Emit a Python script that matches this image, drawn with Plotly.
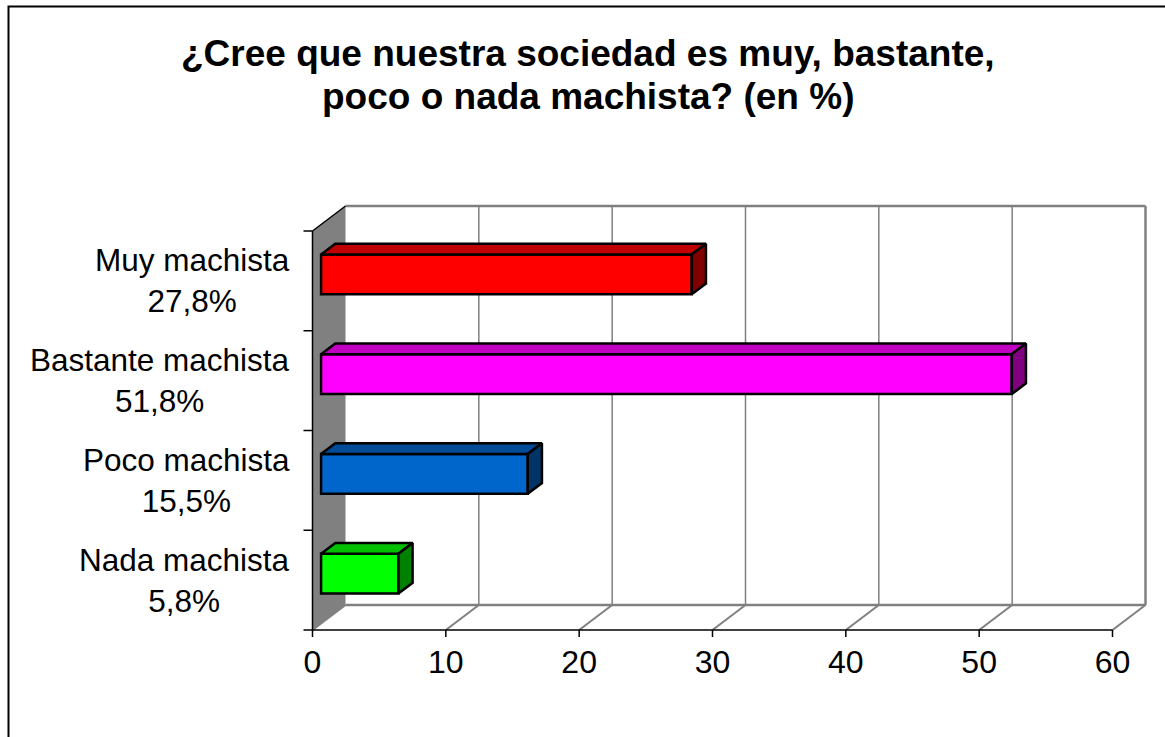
import plotly.graph_objects as go

# ---------------- data ----------------
categories = ["Muy machista", "Bastante machista", "Poco machista", "Nada machista"]
values = [27.8, 51.8, 15.5, 5.8]
value_labels = ["27,8%", "51,8%", "15,5%", "5,8%"]
front_colors = ["#FF0000", "#FF00FF", "#0066CC", "#00FF00"]
top_colors = ["#C00000", "#C000C0", "#004C99", "#00C000"]
side_colors = ["#800000", "#800080", "#003366", "#008000"]
x_ticks = [0, 10, 20, 30, 40, 50, 60]
title_lines = ["¿Cree que nuestra sociedad es muy, bastante,", "poco o nada machista? (en %)"]

# ---------------- geometry ----------------
W, H = 1165, 737
X0PX = 312.5            # pixel of value 0 on the front plane
PXU = 800 / 60          # pixels per value unit
PLOT_L, PLOT_R, PLOT_T, PLOT_B = 298, 1152, 200, 640
FLOOR_PX = 630
XMAX = x_ticks[-1]
DX = 33 / PXU           # depth offset (x, in value units)
DY = 25                 # depth offset (y, in px units)
HT = 399                # front wall height
F1, F2 = 0.26, 0.69     # bar front/back depth fractions
n = len(categories)
band = HT / n
bh = 0.4 * band

FONT = "Liberation Sans, Arial, sans-serif"
GRAY = "#808080"
EDGE_W = 2.5

def px_x(p):
    return (p - X0PX) / PXU

def paper_x(p):
    return (p - PLOT_L) / (PLOT_R - PLOT_L)

def paper_y(p):
    return (PLOT_B - p) / (PLOT_B - PLOT_T)

shapes = []

def line_shape(x0, y0, x1, y1, color, width):
    shapes.append(dict(type="line", xref="x", yref="y", x0=x0, y0=y0, x1=x1, y1=y1,
                       layer="below", line=dict(color=color, width=width)))

# left wall
shapes.append(dict(type="path", xref="x", yref="y", layer="below",
                   path=f"M 0 0 L 0 {HT} L {DX} {HT + DY} L {DX} {DY} Z",
                   fillcolor=GRAY, line=dict(width=0)))
# back wall gridlines
for t in x_ticks[1:-1]:
    line_shape(t + DX, DY, t + DX, HT + DY, GRAY, 1.5)
# floor diagonals
for t in x_ticks:
    line_shape(t, 0, t + DX, DY, GRAY, 2)
# back wall frame
line_shape(DX, HT + DY, XMAX + DX, HT + DY, GRAY, 2.5)
line_shape(XMAX + DX, HT + DY, XMAX + DX, DY, GRAY, 2.5)
line_shape(DX, DY, XMAX + DX, DY, GRAY, 2.5)
# front floor edge, left edge
line_shape(0, 0, XMAX, 0, "black", 1.5)
line_shape(0, 0, 0, HT, "black", 1.5)
line_shape(0, HT, DX, HT + DY, "black", 1.5)
# x ticks
for t in x_ticks:
    line_shape(t, 0, t, -7, "black", 1.5)
# y ticks
for k in range(n + 1):
    line_shape(-9 / PXU, k * band, 0, k * band, "black", 1.5)

# chart border
shapes.append(dict(type="rect", xref="paper", yref="paper",
                   x0=paper_x(8.5), x1=paper_x(1175), y0=paper_y(6.5), y1=paper_y(750),
                   line=dict(color="black", width=2), fillcolor="rgba(0,0,0,0)"))

fig = go.Figure()

# bars (front faces)
ycs = [HT - (i + 0.5) * band for i in range(n)]
fig.add_trace(go.Bar(orientation="h", x=values, y=[yc + F1 * DY for yc in ycs],
                     base=F1 * DX, width=bh,
                     marker=dict(color=front_colors, line=dict(color="black", width=EDGE_W)),
                     hoverinfo="skip", showlegend=False))
# top and side faces
ddx, ddy = (F2 - F1) * DX, (F2 - F1) * DY
for i, v in enumerate(values):
    xa = F1 * DX
    xb = v + F1 * DX
    yt = ycs[i] + bh / 2 + F1 * DY
    yb = yt - bh
    fig.add_trace(go.Scatter(x=[xa, xb, xb + ddx, xa + ddx, xa], y=[yt, yt, yt + ddy, yt + ddy, yt],
                             fill="toself", fillcolor=top_colors[i], mode="lines",
                             line=dict(color="black", width=EDGE_W), hoverinfo="skip", showlegend=False))
    fig.add_trace(go.Scatter(x=[xb, xb, xb + ddx, xb + ddx, xb], y=[yb, yt, yt + ddy, yb + ddy, yb],
                             fill="toself", fillcolor=side_colors[i], mode="lines",
                             line=dict(color="black", width=EDGE_W), hoverinfo="skip", showlegend=False))

annotations = []
for i, cat in enumerate(categories):
    annotations.append(dict(x=paper_x(292), xref="paper", xanchor="right",
                            y=paper_y(FLOOR_PX - ycs[i]), yref="paper",
                            yanchor="middle", align="center", showarrow=False,
                            text=f"{cat}<br>{value_labels[i]}",
                            font=dict(family=FONT, size=31.5, color="black")))
title_mid = [53, 96]
for line, ym in zip(title_lines, title_mid):
    annotations.append(dict(x=paper_x(588), xref="paper", xanchor="center", y=paper_y(ym), yref="paper",
                            yanchor="middle", showarrow=False, text=f"<b>{line}</b>",
                            font=dict(family=FONT, size=37, color="black")))

fig.update_layout(
    width=W, height=H,
    margin=dict(l=PLOT_L, r=W - PLOT_R, t=PLOT_T, b=H - PLOT_B, pad=0),
    paper_bgcolor="white", plot_bgcolor="white",
    showlegend=False,
    xaxis=dict(range=[px_x(PLOT_L), px_x(PLOT_R)], tickvals=x_ticks, ticktext=[str(t) for t in x_ticks],
               ticks="", showgrid=False, zeroline=False, showline=False,
               tickfont=dict(family=FONT, size=32, color="black")),
    yaxis=dict(range=[FLOOR_PX - PLOT_B, FLOOR_PX - PLOT_T], showticklabels=False, ticks="",
               showgrid=False, zeroline=False, showline=False),
    annotations=annotations,
    shapes=shapes,
)

fig.write_html("out.html", config={"displayModeBar": False},
               post_script="document.body.style.margin='0';document.body.style.overflow='hidden';")
